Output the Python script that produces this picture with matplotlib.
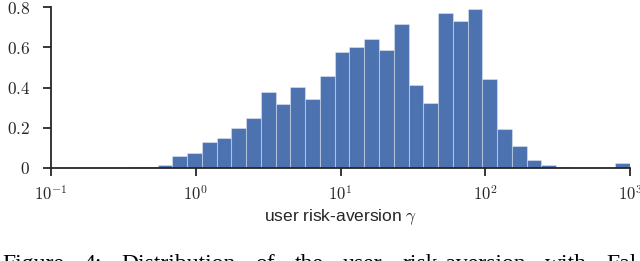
import numpy as np
import matplotlib
matplotlib.use("Agg")
import matplotlib.pyplot as plt

# bar heights, left to right (log-spaced bins ending at 10^3)
heights = [0.003, 0.005, 0.013, 0.058, 0.075, 0.131, 0.151, 0.199, 0.247, 0.379,
           0.320, 0.400, 0.343, 0.459, 0.575, 0.601, 0.640, 0.588, 0.714, 0.412,
           0.321, 0.769, 0.729, 0.790, 0.441, 0.192, 0.111, 0.038, 0.013, 0.003,
           0.0, 0.0, 0.0, 0.026]
n_bins = len(heights)
log_width = 0.102
edges = 10 ** np.linspace(3 - n_bins * log_width, 3, n_bins + 1)
centers = np.sqrt(edges[:-1] * edges[1:])

yticks = [0, 0.2, 0.4, 0.6, 0.8]
ytick_labels = ["$0$", "$0.2$", "$0.4$", "$0.6$", "$0.8$"]
xticks = [0.1, 1, 10, 100, 1000]
xtick_labels = ["$10^{-1}$", "$10^{0}$", "$10^{1}$", "$10^{2}$", "$10^{3}$"]

caption_words = ["Figure", "4:", "Distribution", "of", "the", "user",
                 "risk-aversion", "with", "Fal"]

plt.rcParams['mathtext.fontset'] = 'cm'
plt.rcParams['font.family'] = ['Liberation Sans', 'DejaVu Sans']

fig = plt.figure(figsize=(6.4, 2.61), dpi=100)
ax = fig.add_axes([51/640, 93/261, 579/640, 161/261])

ax.hist(centers, bins=edges, weights=heights, color='#4C72B0',
        edgecolor=(1, 1, 1, 0.35), linewidth=0.8)

ax.set_xscale('log')
ax.set_xlim(0.1, 1000)
ax.set_ylim(0, 0.8)
ax.set_xticks(xticks)
ax.set_xticklabels(xtick_labels, fontsize=12)
ax.set_yticks(yticks)
ax.set_yticklabels(ytick_labels, fontsize=12.5)
ax.xaxis.set_minor_locator(matplotlib.ticker.NullLocator())

for s in ['top', 'right']:
    ax.spines[s].set_visible(False)
for s in ['left', 'bottom']:
    ax.spines[s].set_color('#262626')
    ax.spines[s].set_linewidth(1.3)
ax.tick_params(axis='both', direction='out', length=6, width=1.3, color='#262626',
               labelcolor='#262626')
ax.tick_params(axis='y', pad=9)
ax.tick_params(axis='x', pad=6)

ax.set_xlabel(r"user risk-aversion $\gamma$", fontsize=12.5, color='#262626', labelpad=3)

# justified caption line (cut off at the bottom edge, as in the reference)
renderer = fig.canvas.get_renderer()
texts = [fig.text(0, -0.035, w, fontsize=17, family='Liberation Serif',
                  va='baseline', ha='left') for w in caption_words]
widths = [t.get_window_extent(renderer).width for t in texts]
start_px, end_px = 2.0, 637.0
gap = (end_px - start_px - sum(widths)) / (len(widths) - 1)
x = start_px
for t, w in zip(texts, widths):
    t.set_x(x / 640)
    x += w + gap

fig.savefig("out.png", dpi=100)
